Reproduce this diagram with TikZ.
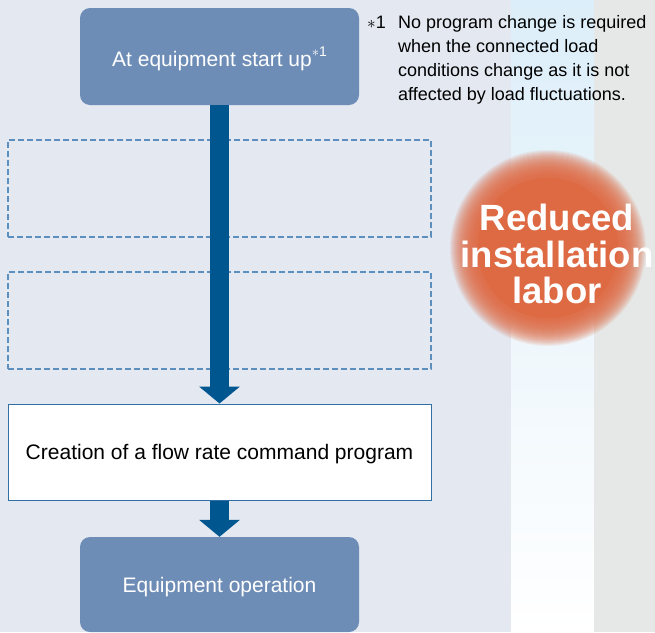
\documentclass[tikz,border=0pt]{standalone}
\usepackage{fontspec}
\setmainfont{Liberation Sans}
\usetikzlibrary{arrows.meta, positioning}
\definecolor{bgblue}{HTML}{E3E8F1}
\definecolor{stripblue}{HTML}{DCEEF9}
\definecolor{bggray}{HTML}{E6E8E7}
\definecolor{boxblue}{HTML}{6E8DB6}
\definecolor{arrowblue}{HTML}{00568F}
\definecolor{dashblue}{HTML}{5C8FBD}
\definecolor{frameblue}{HTML}{2F6FA6}
\definecolor{badge}{HTML}{DE6A43}

\begin{document}
\begin{tikzpicture}[
  x=1pt, y=-1pt,
  rnode/.style={rectangle, rounded corners=10pt, fill=boxblue, text=white,
                minimum width=279pt, minimum height=97pt, text depth=0pt,
                font=\fontsize{21}{25}\selectfont},
  slot/.style={rectangle, draw=dashblue, dash pattern=on 6pt off 3pt,
               line width=1.2pt, minimum width=423pt, minimum height=97pt},
  wnode/.style={rectangle, draw=frameblue, fill=white, line width=1pt,
                minimum width=423pt, minimum height=96pt, text depth=0pt,
                font=\fontsize{21}{25}\selectfont},
  flow/.style={line width=19pt, draw=arrowblue,
               -{Triangle[width=40pt, length=17pt]}},
  note/.style={align=left, inner sep=0pt, font=\fontsize{18}{24}\selectfont},
  badgetxt/.style={align=center, text=white, inner sep=0pt,
                   font=\fontsize{36.5}{36.5}\selectfont\bfseries},
]
  \useasboundingbox (0,0) rectangle (655,632);

  %% Background bands
  \fill[bgblue] (0,0) rectangle (511,632);
  \shade[top color=stripblue, bottom color=white] (511,0) rectangle (594,632);
  \fill[bggray] (594,0) rectangle (655,632);

  %% Soft badge
  \coordinate (bc) at (548,248);
  \fill[badge] (bc) circle (70);
  \foreach \r in {71,...,98}
    \fill[badge, opacity=0.09] (bc) circle (\r);
  \node[badgetxt] (gain) at (557,254) {Reduced\\installation\\labor};

  %% Flow
  \node[rnode] (start) at (219.5,56.5) {At equipment start up\raisebox{0.45em}{\fontsize{14}{14}\selectfont$\ast$1}};
  \node[slot]  (slot1) at (219.5,188.5) {};
  \node[slot]  (slot2) at (219.5,320.5) {};
  \node[wnode] (prog)  at (219.5,452) {Creation of a flow rate command program};
  \node[rnode, minimum height=95pt] (run) at (219.5,584.5) {Equipment operation};

  \draw[flow] (start.south) -- (prog.north);
  \draw[flow] (prog.south) -- (run.north);

  %% Footnote
  \node[note, anchor=north west] (fn) at (367,15)
    {\makebox[31pt][l]{$\ast$1}No program change is required\\
     \hspace*{31pt}when the connected load\\
     \hspace*{31pt}conditions change as it is not\\
     \hspace*{31pt}affected by load fluctuations.};
\end{tikzpicture}
\end{document}
